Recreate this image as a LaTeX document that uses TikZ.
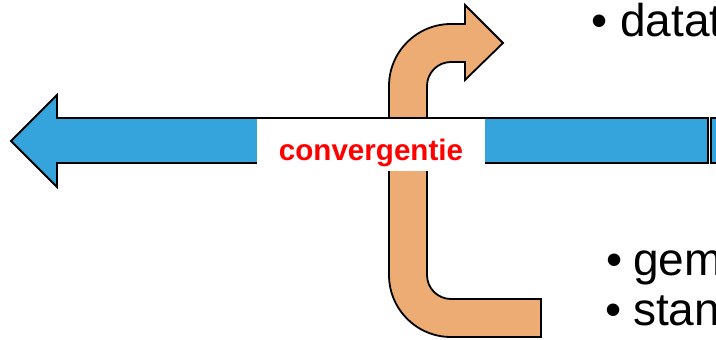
\documentclass[tikz,border=0pt]{standalone}
\usepackage{fontspec}
\setmainfont{Liberation Sans}
\definecolor{arrowblue}{RGB}{53,164,220}
\definecolor{arroworange}{RGB}{237,172,115}
\tikzset{
  outl/.style={draw=black, line width=1.8pt, line join=miter},
  bigtext/.style={inner sep=0pt, font=\fontsize{46}{50}\selectfont},
  lbl/.style={inner sep=0pt, text=red, font=\fontsize{29.6}{32}\selectfont\bfseries}
}
\begin{document}
\begin{tikzpicture}[x=1pt,y=-1pt]
\useasboundingbox (0,0) rectangle (716,340);
\clip (0,0) rectangle (716,340);
% orange bent arrow
\draw[outl, fill=arroworange]
  (541,299) -- (541,337) -- (451,337)
  arc[start angle=90, end angle=180, radius=62] -- (389,86)
  arc[start angle=180, end angle=270, radius=62] -- (465,24) -- (465,5)
  -- (503,43) -- (465,80) -- (465,62) -- (451,62)
  arc[start angle=270, end angle=180, radius=24] -- (427,275)
  arc[start angle=180, end angle=90, radius=24] -- cycle;
% blue arrow
\draw[outl, fill=arrowblue]
  (708,118) -- (57,118) -- (57,95) -- (11,141) -- (57,187) -- (57,163) -- (708,163) -- cycle;
\draw[outl, fill=arrowblue] (711,118) rectangle (740,163);
% label box
\fill[white] (257,119) rectangle (485,171);
\node[lbl, anchor=base] (conv) at (371,160) {convergentie};
% bullet texts
\node[bigtext, anchor=base] (b1) at (600,37) {•};
\node[bigtext, anchor=base west] (t1) at (620,37) {datat};
\node[bigtext, anchor=base] (b2) at (615,275) {•};
\node[bigtext, anchor=base west] (t2) at (633,275) {gem};
\node[bigtext, anchor=base] (b3) at (614,325) {•};
\node[bigtext, anchor=base west] (t3) at (633,325) {stand};
\end{tikzpicture}
\end{document}
